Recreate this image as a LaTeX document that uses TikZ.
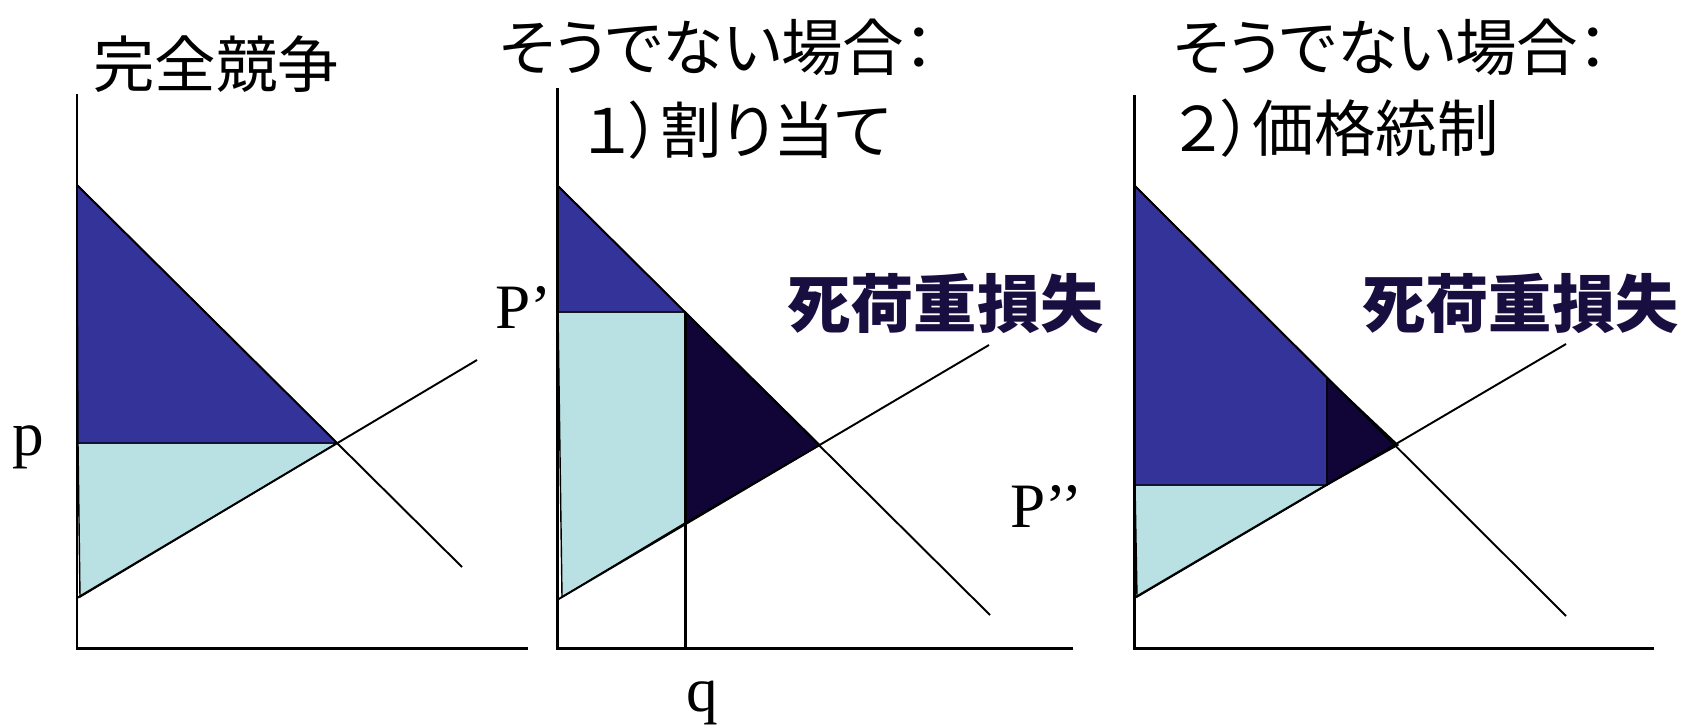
\documentclass[tikz,border=0pt]{standalone}
\usepackage{fontspec}
\setmainfont{Liberation Serif}
\newfontfamily\jp[RawFeature=+palt]{Noto Sans CJK JP}
\definecolor{cs}{RGB}{51,51,153}
\definecolor{ps}{RGB}{185,224,227}
\definecolor{dwl}{RGB}{17,5,56}
\definecolor{dwltext}{RGB}{24,14,64}

\begin{document}
\begin{tikzpicture}[x=0.02cm,y=-0.02cm,
        axis/.style={line width=1.7pt},
        curve/.style={line width=1.1pt},
        area/.style={draw=black,line width=0.8pt},
        title/.style={font=\jp\fontsize{35}{40}\selectfont,anchor=west,inner sep=0pt},
        dwltag/.style={font=\jp\bfseries\fontsize{36}{40}\selectfont,text=dwltext,anchor=west,inner sep=0pt},
        var/.style={font=\fontsize{36}{40}\selectfont,inner sep=0pt}]
        \useasboundingbox (0,0) rectangle (1690,727);

        % titles
        \node[title] (t1) at (93,64) {完全競争};
        \node[title] (t2a) at (499,47) {そうでない場合：};
        \node[title] (t2b) at (583,130) {１）割り当て};
        \node[title] (t3a) at (1173,47) {そうでない場合：};
        \node[title] (t3b) at (1175,128) {２）価格統制};

        % competitive market
        \coordinate (d1) at (77,185);
        \coordinate (e1) at (337,443);
        \coordinate (s1) at (77,598);
        \filldraw[area,fill=ps] (78,443) -- (e1) -- (80,597) -- cycle;
        \filldraw[area,fill=cs] (d1) -- (e1) -- (78,443) -- cycle;
        \draw[curve] (d1) -- (462,567);
        \draw[curve] (s1) -- (477,360);

        % rationing
        \coordinate (d2) at (557,185);
        \coordinate (e2) at (820,445);
        \coordinate (s2) at (557,600);
        \coordinate (qd) at (685,312);
        \coordinate (qs) at (685,523);
        \filldraw[area,fill=ps] (558,312) -- (qd) -- (qs) -- (562,597) -- cycle;
        \filldraw[area,fill=cs] (d2) -- (qd) -- (558,312) -- cycle;
        \filldraw[area,fill=dwl] (qd) -- (e2) -- (qs) -- cycle;
        \draw[curve] (d2) -- (990,615);
        \draw[curve] (s2) -- (989,345);
        \draw[axis] (qd) -- (685,648);

        % price control
        \coordinate (d3) at (1134,185);
        \coordinate (e3) at (1398,445);
        \coordinate (s3) at (1134,598);
        \coordinate (cd) at (1327,378);
        \coordinate (cs) at (1327,485);
        \filldraw[area,fill=ps] (1135,485) -- (cs) -- (1137,597) -- cycle;
        \filldraw[area,fill=cs] (d3) -- (cd) -- (cs) -- (1135,485) -- cycle;
        \filldraw[area,fill=dwl] (cd) -- (e3) -- (cs) -- cycle;
        \draw[curve] (d3) -- (1566,616);
        \draw[curve] (s3) -- (1566,344);

        % axes
        \foreach \x/\top/\right in {77/94/528, 557/88/1073, 1134/95/1654}{
            \draw[axis] (\x,\top) -- (\x,648) -- (\right,648);
        }

        % labels
        \node[var,anchor=base] (p) at (28,455) {p};
        \node[var,anchor=base west] (p1) at (495,328) {P’};
        \node[var,anchor=base west] (p2) at (1010,527) {P’’};
        \node[var,anchor=base] (q) at (702,711) {q};
        \node[dwltag] (dwl2) at (787,303) {死荷重損失};
        \node[dwltag] (dwl3) at (1362,303) {死荷重損失};
    \end{tikzpicture}
\end{document}
